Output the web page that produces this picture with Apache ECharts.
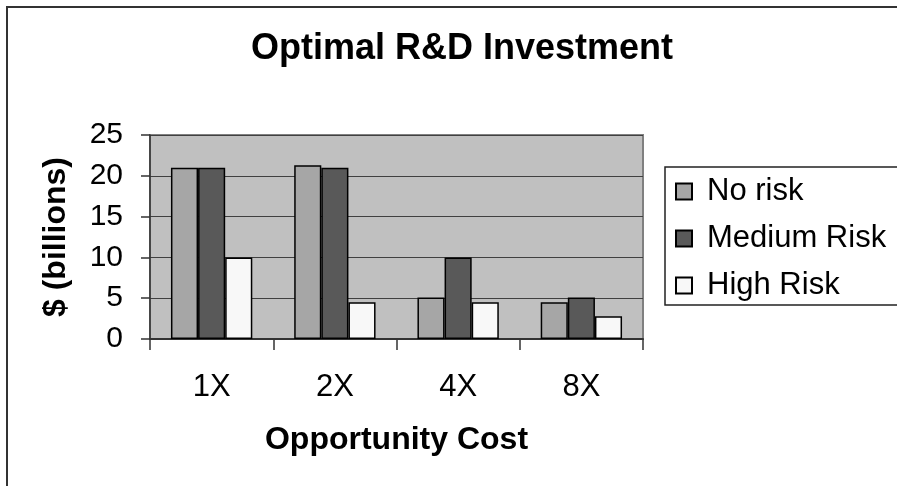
<!DOCTYPE html>
<html>
<head>
<meta charset="utf-8">
<script src="https://cdn.jsdelivr.net/npm/echarts@6/dist/echarts.min.js"></script>
<style>
  html, body { margin: 0; padding: 0; background: #ffffff; }
  #chart { width: 897px; height: 486px; }
</style>
</head>
<body>
<div id="chart"></div>
<script>
// Opportunity-cost multipliers along the x axis
const categories = ['1X', '2X', '4X', '8X'];

// Optimal R&D investment, $ billions, per risk scenario
const noRisk     = [21.0, 21.3, 5.1, 4.5];
const mediumRisk = [21.0, 21.0, 10.0, 5.1];
const highRisk   = [10.0, 4.5, 4.5, 2.8];

// Value-axis ticks
const yTicks = [0, 5, 10, 15, 20, 25];

const FONT = '"Liberation Sans", Arial, Helvetica, sans-serif';

const chart = echarts.init(document.getElementById('chart'), null, { renderer: 'canvas' });

const barStyle = (color) => ({
  color: color,
  borderColor: '#000000',
  borderWidth: 1.5
});

chart.setOption({
  animation: false,
  backgroundColor: '#ffffff',
  title: {
    text: 'Optimal R&D Investment',
    left: 457,
    textAlign: 'center',
    top: 26,
    textStyle: { fontFamily: FONT, fontSize: 36, fontWeight: 'bold', color: '#000000' }
  },
  graphic: [
    // outer chart frame
    {
      type: 'rect',
      shape: { x: 7, y: 7, width: 920, height: 520 },
      style: { fill: null, stroke: '#333333', lineWidth: 2 },
      silent: true,
      z: -10
    },
    // legend frame
    {
      type: 'rect',
      shape: { x: 665, y: 167, width: 260, height: 138 },
      style: { fill: '#ffffff', stroke: '#222222', lineWidth: 1.5 },
      silent: true,
      z: 0
    }
  ],
  legend: {
    orient: 'vertical',
    left: 675,
    top: 176,
    itemWidth: 16,
    itemHeight: 16,
    itemGap: 16,
    icon: 'rect',
    padding: 0,
    z: 5,
    textStyle: { fontFamily: FONT, fontSize: 31, color: '#000000', padding: [0, 0, 0, 10] },
    data: ['No risk', 'Medium Risk', 'High Risk']
  },
  grid: {
    left: 150,
    right: 254,
    top: 135,
    bottom: 147,
    show: true,
    backgroundColor: '#c0c0c0',
    borderColor: '#808080',
    borderWidth: 2
  },
  xAxis: {
    type: 'category',
    data: categories,
    name: 'Opportunity Cost',
    nameLocation: 'middle',
    nameGap: 85,
    nameTextStyle: { fontFamily: FONT, fontSize: 32, fontWeight: 'bold', color: '#000000' },
    axisLine: { lineStyle: { color: '#333333', width: 2 } },
    axisTick: { show: true, inside: false, length: 11, lineStyle: { color: '#333333', width: 1.5 } },
    axisLabel: { margin: 33, fontFamily: FONT, fontSize: 31, color: '#000000' }
  },
  yAxis: {
    type: 'value',
    min: yTicks[0],
    max: yTicks[yTicks.length - 1],
    interval: yTicks[1] - yTicks[0],
    name: '$ (billions)',
    nameLocation: 'middle',
    nameGap: 78,
    nameTextStyle: { fontFamily: FONT, fontSize: 32, fontWeight: 'bold', color: '#000000' },
    axisLine: { show: true, lineStyle: { color: '#333333', width: 1.5 } },
    axisTick: { show: true, inside: false, length: 9, lineStyle: { color: '#333333', width: 1.5 } },
    axisLabel: { margin: 27, fontFamily: FONT, fontSize: 30, color: '#000000' },
    splitLine: { show: true, lineStyle: { color: '#404040', width: 1.2 } }
  },
  series: [
    {
      name: 'No risk', type: 'bar', data: noRisk,
      barGap: '0%', barCategoryGap: '34%',
      itemStyle: barStyle('#a6a6a6')
    },
    {
      name: 'Medium Risk', type: 'bar', data: mediumRisk,
      barGap: '0%', barCategoryGap: '34%',
      itemStyle: barStyle('#595959')
    },
    {
      name: 'High Risk', type: 'bar', data: highRisk,
      barGap: '0%', barCategoryGap: '34%',
      itemStyle: barStyle('#f8f8f8')
    }
  ]
});
</script>
</body>
</html>
